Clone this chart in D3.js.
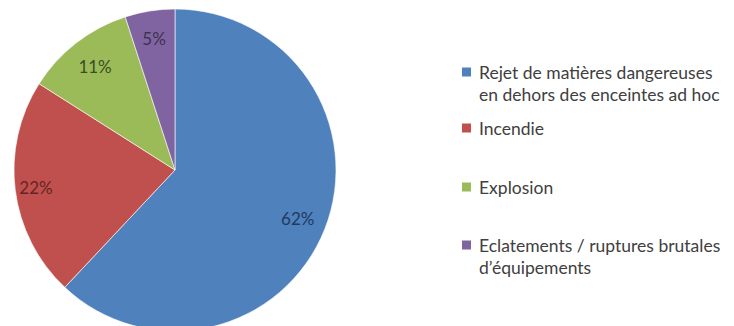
<!DOCTYPE html>
<html><head><meta charset="utf-8">
<script src="https://cdn.jsdelivr.net/npm/d3@7"></script>
<style>body{margin:0;background:#fff}svg{display:block}</style>
</head><body><svg id="c" width="734" height="326"></svg>
<script>
const categories = ["Rejet de matières dangereuses|en dehors des enceintes ad hoc", "Incendie", "Explosion", "Eclatements / ruptures brutales|d’équipements"];
const values = [62, 22, 11, 5];
const labels = ["62%", "22%", "11%", "5%"];
const colors = ["#4F81BD", "#C0504D", "#9BBB59", "#8064A2"];
const labelColors = ["#1F3A60", "#632523", "#3C4D1F", "#3F3151"];

const svg = d3.select("#c");
const cx = 175, cy = 170, R = 161;
const g = svg.append("g").attr("transform", `translate(${cx},${cy})`);
const pie = d3.pie().sort(null).value(d => d)(values);
const arc = d3.arc().innerRadius(0).outerRadius(R);
g.selectAll("path").data(pie).join("path")
  .attr("d", arc).attr("fill", (d, i) => colors[i])
  .attr("stroke", "#fff").attr("stroke-width", 0.6);
const labelArc = [0.82, 0.87, 0.81, 0.83];
g.selectAll("text").data(pie).join("text")
  .attr("transform", (d, i) => {
    const a = (d.startAngle + d.endAngle) / 2;
    const r = R * labelArc[i];
    return `translate(${Math.sin(a) * r},${-Math.cos(a) * r})`;
  })
  .attr("text-anchor", "middle").attr("dominant-baseline", "central")
  .attr("font-family", "Lato, 'Open Sans', sans-serif").attr("font-size", 17)
  .attr("fill", (d, i) => labelColors[i]).text((d, i) => labels[i]);

const legendY = [72, 128, 187, 245];
const lg = svg.append("g");
categories.forEach((c, i) => {
  lg.append("rect").attr("x", 462).attr("y", legendY[i] - 4.5).attr("width", 9).attr("height", 9).attr("fill", colors[i]);
  const t = lg.append("text").attr("x", 479).attr("y", legendY[i])
    .attr("font-family", "Lato, 'Open Sans', sans-serif").attr("font-size", 17.5).attr("fill", "#404040")
    .attr("dominant-baseline", "central");
  c.split("|").forEach((line, j) => {
    t.append("tspan").attr("x", 479).attr("dy", j === 0 ? 0 : 21.5).text(line);
  });
});
</script></body></html>
